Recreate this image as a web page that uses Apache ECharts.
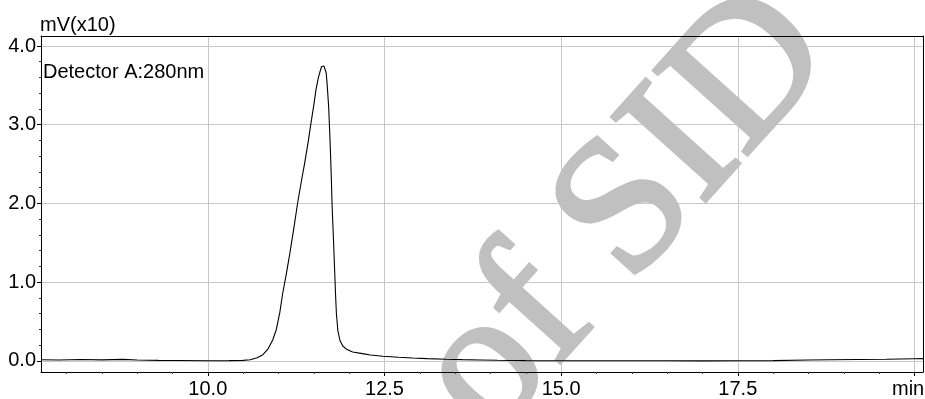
<!DOCTYPE html>
<html>
<head>
<meta charset="utf-8">
<script src="https://cdn.jsdelivr.net/npm/echarts@6/dist/echarts.min.js"></script>
<style>html,body{margin:0;padding:0;background:#fff}#c{width:925px;height:399px}</style>
</head>
<body>
<div id="c"></div>
<script>
// Retention time (min) and signal (mV x10)
var times = [7.64,7.9,8.2,8.5,8.8,9.0,9.3,9.6,10.0,10.3,10.5,10.6,10.7,10.78,10.85,10.92,10.97,11.02,11.06,11.11,11.16,11.22,11.27,11.32,11.37,11.42,11.46,11.50,11.53,11.56,11.59,11.61,11.627,11.645,11.66,11.675,11.69,11.71,11.73,11.746,11.76,11.779,11.795,11.807,11.82,11.84,11.87,11.91,11.97,12.05,12.19,12.3,12.48,12.7,12.9,13.1,13.37,13.6,13.85,14.1,14.5,15.0,15.5,16.0,16.5,17.0,17.5,18.0,18.5,18.8,19.2,19.6,20.0,20.12];
var signal = [0.015,0.012,0.018,0.014,0.02,0.012,0.008,0.006,0.003,0.004,0.008,0.015,0.04,0.08,0.15,0.27,0.40,0.62,0.86,1.10,1.36,1.70,2.00,2.26,2.51,2.78,3.02,3.25,3.44,3.58,3.68,3.74,3.757,3.745,3.72,3.66,3.50,3.23,2.80,2.38,1.95,1.53,1.15,0.86,0.60,0.39,0.26,0.19,0.145,0.115,0.093,0.075,0.06,0.048,0.038,0.03,0.022,0.017,0.013,0.009,0.005,0.003,0.002,0.002,0.002,0.001,0.002,0.005,0.012,0.015,0.018,0.022,0.028,0.03];
var xMajorTicks = [10.0,12.5,15.0,17.5,20.0];
var xLabelTicks = [10.0,12.5,15.0,17.5];
var xMinorTicks = [8.0,8.5,9.0,9.5,10.5,11.0,11.5,12.0,13.0,13.5,14.0,14.5,15.5,16.0,16.5,17.0,18.0,18.5,19.0,19.5];
var yMajorTicks = [0.0,1.0,2.0,3.0,4.0];
var yMinorTicks = [0.2,0.4,0.6,0.8,1.2,1.4,1.6,1.8,2.2,2.4,2.6,2.8,3.2,3.4,3.6,3.8];
var xRange = [7.64, 20.12];
var yRange = [-0.14, 4.127];
var yUnitLabel = 'mV(x10)';
var xUnitLabel = 'min';
var detectorLabel = 'Detector A:280nm';
var watermarkText = 'of SID';

var data = times.map(function (t, i) { return [t, signal[i]]; });
var FONT = 'Liberation Sans, Arial, sans-serif';
var black = '#000';
var gridGray = '#c8c8c8';

function xa(extra) {
  return Object.assign({
    type: 'value', min: xRange[0], max: xRange[1], position: 'bottom',
    axisLine: { show: false, onZero: false },
    axisTick: { show: false },
    axisLabel: { show: false },
    splitLine: { show: false }
  }, extra);
}
function ya(extra) {
  return Object.assign({
    type: 'value', min: yRange[0], max: yRange[1], position: 'left',
    axisLine: { show: false, onZero: false },
    axisTick: { show: false },
    axisLabel: { show: false },
    splitLine: { show: false }
  }, extra);
}

var chart = echarts.init(document.getElementById('c'), null, { renderer: 'canvas' });
chart.setOption({
  animation: false,
  backgroundColor: '#fff',
  grid: { left: 41, right: 2, top: 36, bottom: 27, containLabel: false },
  xAxis: [
    xa({ z: 3,
      axisLine: { show: true, onZero: false, lineStyle: { color: black, width: 1 } },
      axisTick: { show: true, length: 4, customValues: xMajorTicks, lineStyle: { color: black } },
      axisLabel: { show: true, customValues: xLabelTicks, margin: 7, color: black, fontSize: 20, fontFamily: FONT,
        formatter: function (v) { return Number(v).toFixed(1); } }
    }),
    xa({ z: 0,
      axisTick: { show: false, customValues: xMajorTicks },
      splitLine: { show: true, lineStyle: { color: gridGray, width: 1 } }
    }),
    xa({ z: 3,
      axisTick: { show: true, length: 2, customValues: xMinorTicks, lineStyle: { color: '#333' } }
    }),
    xa({ z: 3, position: 'top',
      axisLine: { show: true, onZero: false, lineStyle: { color: black, width: 1 } }
    })
  ],
  yAxis: [
    ya({ z: 3,
      axisLine: { show: true, onZero: false, lineStyle: { color: black, width: 1 } },
      axisTick: { show: true, length: 4, customValues: yMajorTicks, lineStyle: { color: black } },
      axisLabel: { show: true, customValues: yMajorTicks, margin: 5, color: black, fontSize: 20, fontFamily: FONT,
        formatter: function (v) { return Number(v).toFixed(1); } }
    }),
    ya({ z: 0,
      axisTick: { show: false, customValues: yMajorTicks },
      splitLine: { show: true, lineStyle: { color: gridGray, width: 1 } }
    }),
    ya({ z: 3,
      axisTick: { show: true, length: 2, customValues: yMinorTicks, lineStyle: { color: '#333' } }
    }),
    ya({ z: 3, position: 'right',
      axisLine: { show: true, onZero: false, lineStyle: { color: black, width: 1 } }
    })
  ],
  graphic: {
    elements: [
      { type: 'text', z: 1, x: 626, y: 214, rotation: 48 * Math.PI / 180,
        style: { text: watermarkText, fill: '#c0c0c0', stroke: '#c0c0c0', lineWidth: 4,
          font: '192px "Liberation Serif", "Times New Roman", serif',
          align: 'center', verticalAlign: 'middle' } },
      { type: 'text', z: 5, x: 40, y: 15.5,
        style: { text: yUnitLabel, fill: black, font: '20px ' + FONT, align: 'left', verticalAlign: 'top' } },
      { type: 'text', z: 5, x: 43, y: 62,
        style: { text: detectorLabel, fill: black, font: '20px ' + FONT, align: 'left', verticalAlign: 'top' } },
      { type: 'text', z: 5, x: 892, y: 379,
        style: { text: xUnitLabel, fill: black, font: '20px ' + FONT, align: 'left', verticalAlign: 'top' } }
    ]
  },
  series: [{
    type: 'line', xAxisIndex: 0, yAxisIndex: 0, z: 2,
    data: data, showSymbol: false, symbol: 'none', smooth: false,
    lineStyle: { color: black, width: 1.1 }
  }]
});
</script>
</body>
</html>
